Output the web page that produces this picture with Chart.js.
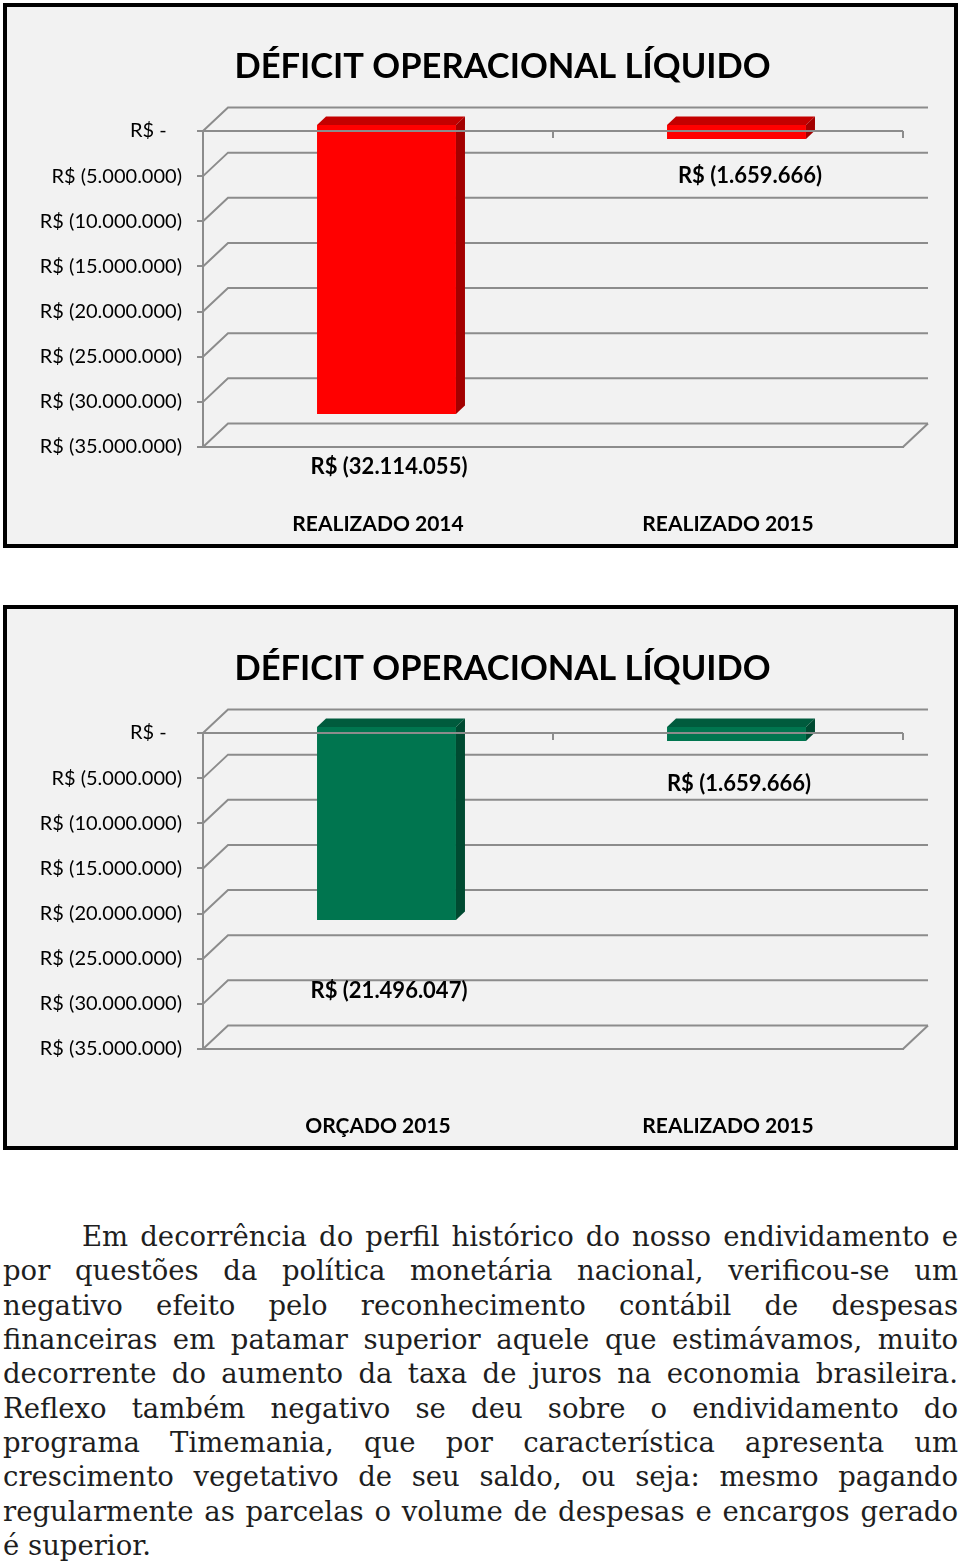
<!DOCTYPE html>
<html>
<head>
<meta charset="utf-8">
<script src="https://cdn.jsdelivr.net/npm/chart.js@4.4.1/dist/chart.umd.min.js"></script>
<style>
  body { margin: 0; background: #fff; width: 960px; height: 1561px; position: relative; overflow: hidden; }
  .box { position: absolute; left: 3px; width: 955px; height: 545px; box-sizing: border-box; border: 4px solid #000; background: #f2f2f2; overflow: hidden; }
  .box canvas { display: block; }
  #text { position: absolute; left: 3px; top: 1219px; width: 955px; font-family: "DejaVu Serif", serif; font-size: 27.5px; color: #1e1e1e; }
  #text div { height: 34.33px; line-height: 34.33px; white-space: nowrap; text-align: justify; text-align-last: justify; }
  #text div.first { padding-left: 79px; }
  #text div.last { text-align-last: left; }
</style>
</head>
<body>
<!-- o canvas passa um pouco da caixa para o título ficar centrado como no Excel -->
<div class="box" style="top:3px"><canvas id="c1" width="991" height="537"></canvas></div>
<div class="box" style="top:605px"><canvas id="c2" width="991" height="537"></canvas></div>
<div id="text"></div>

<script>
// dados
const chartTitle = "DÉFICIT OPERACIONAL LÍQUIDO";
const yTickValues = [0, -5000000, -10000000, -15000000, -20000000, -25000000, -30000000, -35000000];

const chart1Categories = ["REALIZADO 2014", "REALIZADO 2015"];
const chart1Values = [-32114055, -1659666];

const chart2Categories = ["ORÇADO 2015", "REALIZADO 2015"];
const chart2Values = [-21496047, -1659666];

const paragraphLines = [
  "Em decorrência do perfil histórico do nosso endividamento e",
  "por questões da política monetária nacional, verificou-se um",
  "negativo efeito pelo reconhecimento contábil de despesas",
  "financeiras em patamar superior aquele que estimávamos, muito",
  "decorrente do aumento da taxa de juros na economia brasileira.",
  "Reflexo também negativo se deu sobre o endividamento do",
  "programa Timemania, que por característica apresenta um",
  "crescimento vegetativo de seu saldo, ou seja: mesmo pagando",
  "regularmente as parcelas o volume de despesas e encargos gerado",
  "é superior."
];

// formato contábil do Excel
function brl(v) {
  if (v === 0) return "R$ -   ";
  const s = Math.abs(v).toFixed(0).replace(/\B(?=(\d{3})+(?!\d))/g, ".");
  return v < 0 ? "R$ (" + s + ")" : "R$ " + s;
}

const GRID = "#8c8c8c";
const WALL = { dx: 25, dy: 23.5 };     // parede do fundo
const SHIFT = { dx: 8.5, dy: -7 };     // barras ficam no meio da profundidade
const BAR_DEPTH = { dx: 9, dy: 8.5 };

const pseudo3d = {
  id: "pseudo3d",
  beforeDatasetsDraw(chart) {
    const { ctx, chartArea: a, scales: { y } } = chart;
    ctx.save();
    ctx.strokeStyle = GRID;
    ctx.lineWidth = 2;
    y.ticks.forEach((t) => {
      const py = y.getPixelForValue(t.value);
      ctx.beginPath();
      ctx.moveTo(a.left, py);
      ctx.lineTo(a.left + WALL.dx, py - WALL.dy);
      ctx.lineTo(a.right + WALL.dx, py - WALL.dy);
      ctx.stroke();
    });
    // canto direito do piso
    ctx.beginPath();
    ctx.moveTo(a.right, a.bottom);
    ctx.lineTo(a.right + WALL.dx, a.bottom - WALL.dy);
    ctx.stroke();
    ctx.restore();

    ctx.save();
    ctx.translate(SHIFT.dx, SHIFT.dy);
  },
  afterDatasetsDraw(chart, args, opts) {
    const { ctx, chartArea: a, scales: { x, y } } = chart;
    const bars = chart.getDatasetMeta(0).data;
    bars.forEach((bar) => {
      const l = bar.x - bar.width / 2, r = bar.x + bar.width / 2;
      const top = Math.min(bar.y, bar.base), bot = Math.max(bar.y, bar.base);
      ctx.fillStyle = opts.topColor;
      ctx.beginPath();
      ctx.moveTo(l, top);
      ctx.lineTo(l + BAR_DEPTH.dx, top - BAR_DEPTH.dy);
      ctx.lineTo(r + BAR_DEPTH.dx, top - BAR_DEPTH.dy);
      ctx.lineTo(r, top);
      ctx.closePath();
      ctx.fill();
      ctx.fillStyle = opts.sideColor;
      ctx.beginPath();
      ctx.moveTo(r, top);
      ctx.lineTo(r + BAR_DEPTH.dx, top - BAR_DEPTH.dy);
      ctx.lineTo(r + BAR_DEPTH.dx, bot - BAR_DEPTH.dy);
      ctx.lineTo(r, bot);
      ctx.closePath();
      ctx.fill();
    });
    ctx.restore();

    // eixo de categorias na frente (passa por cima das barras)
    const y0 = y.getPixelForValue(0);
    const half = (x.getPixelForValue(1) - x.getPixelForValue(0)) / 2;
    ctx.save();
    ctx.strokeStyle = GRID;
    ctx.lineWidth = 2;
    ctx.beginPath();
    ctx.moveTo(a.left, y0);
    ctx.lineTo(a.right, y0);
    x.ticks.forEach((t, i) => {
      const px = x.getPixelForValue(i) + half;
      ctx.moveTo(px, y0);
      ctx.lineTo(px, y0 + 7);
    });
    ctx.stroke();

    // rótulos de valor
    ctx.fillStyle = "#000";
    ctx.font = "bold 22px Lato";
    ctx.textAlign = "center";
    ctx.textBaseline = "middle";
    bars.forEach((bar, i) => {
      const v = chart.data.datasets[0].data[i];
      const [sx, sy] = opts.labelShift[i];
      ctx.fillText(brl(v), bar.x + sx, bar.y + sy);
    });
    ctx.restore();
  }
};

function makeChart(id, categories, values, colors, labelShift) {
  return new Chart(document.getElementById(id), {
    type: "bar",
    data: {
      labels: categories,
      datasets: [{
        data: values,
        backgroundColor: colors.front,
        borderWidth: 0,
        categoryPercentage: 1,
        barPercentage: 0.397,
        clip: false
      }]
    },
    options: {
      responsive: false,
      animation: false,
      layout: { padding: 0 },
      plugins: {
        legend: { display: false },
        tooltip: { enabled: false },
        title: {
          display: true,
          text: chartTitle,
          color: "#000",
          font: { family: "Lato", size: 34.5, weight: "bold", lineHeight: 1.2 },
          padding: { top: 38.8, bottom: 43.8 }
        },
        pseudo3d: { topColor: colors.top, sideColor: colors.side, labelShift: labelShift }
      },
      scales: {
        x: {
          position: "bottom",
          grid: { display: false, drawTicks: false, tickLength: 0 },
          border: { display: true, color: GRID, width: 2 },
          ticks: { color: "#000", font: { family: "Lato", size: 21, weight: "bold" }, padding: 64.4 },
          afterFit: (s) => { s.height = 97; }
        },
        y: {
          min: -35000000,
          max: 0,
          afterBuildTicks: (s) => { s.ticks = yTickValues.map((v) => ({ value: v })); },
          grid: { drawOnChartArea: false, drawTicks: true, tickLength: 6, color: GRID, lineWidth: 2 },
          border: { display: true, color: GRID, width: 2 },
          ticks: { color: "#000", font: { family: "Lato", size: 20 }, padding: 15, callback: (v) => brl(v) },
          afterFit: (s) => { s.width = 196; }
        },
        // eixo vazio à direita: só reserva espaço para a parede do fundo
        yRight: {
          position: "right",
          grid: { display: false, drawTicks: false },
          border: { display: false },
          ticks: { display: false },
          afterFit: (s) => { s.width = 95; }
        }
      }
    },
    plugins: [pseudo3d]
  });
}

makeChart("c1", chart1Categories, chart1Values,
  { front: "#ff0000", top: "#c40000", side: "#a30000" },
  [[11, 46], [22, 30]]);

makeChart("c2", chart2Categories, chart2Values,
  { front: "#00754f", top: "#005b3d", side: "#004a31" },
  [[11, 64], [11, 36]]);

// texto justificado, linha por linha como no original
const box = document.getElementById("text");
paragraphLines.forEach((line, i) => {
  const d = document.createElement("div");
  d.textContent = line;
  if (i === 0) d.className = "first";
  if (i === paragraphLines.length - 1) d.className = "last";
  box.appendChild(d);
});
</script>
</body>
</html>
